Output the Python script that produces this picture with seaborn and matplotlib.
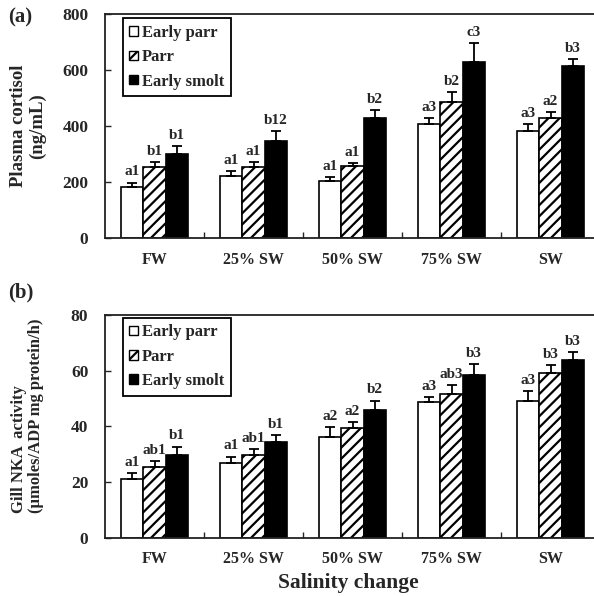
import seaborn as sns
import matplotlib.pyplot as plt
import pandas as pd
from matplotlib.patches import Patch

# Salinity groups and life stages
salinity = ["FW", "25% SW", "50% SW", "75% SW", "SW"]
stages = ["Early parr", "Parr", "Early smolt"]

# (a) plasma cortisol, ng/mL (mean and SE)
cortisol_early_parr = [183, 221, 205, 407, 383]
cortisol_parr = [252, 252, 258, 487, 429]
cortisol_early_smolt = [299, 347, 428, 630, 615]
cortisol_se_early_parr = [15, 18, 14, 20, 24]
cortisol_se_parr = [20, 20, 9, 35, 22]
cortisol_se_early_smolt = [30, 36, 29, 65, 24]
cortisol_letters = [["a1", "a1", "a1", "a3", "a3"],
                    ["b1", "a1", "a1", "b2", "a2"],
                    ["b1", "b12", "b2", "c3", "b3"]]

# (b) gill NKA activity
nka_early_parr = [21.1, 26.8, 36.0, 48.7, 48.9]
nka_parr = [25.5, 29.5, 39.3, 51.7, 59.1]
nka_early_smolt = [29.7, 34.5, 45.9, 58.5, 63.7]
nka_se_early_parr = [2.1, 2.3, 3.7, 1.8, 3.6]
nka_se_parr = [2.1, 2.4, 2.2, 3.2, 2.8]
nka_se_early_smolt = [3.0, 2.2, 3.3, 3.9, 3.0]
nka_letters = [["a1", "a1", "a2", "a3", "a3"],
               ["ab1", "ab1", "a2", "ab3", "b3"],
               ["b1", "b1", "b2", "b3", "b3"]]


def make_df(means, ses):
    rows = []
    for stage, m, s in zip(stages, means, ses):
        for cat, v, e in zip(salinity, m, s):
            rows.append({"Salinity": cat, "Stage": stage, "value": v, "se": e})
    return pd.DataFrame(rows)


df_a = make_df([cortisol_early_parr, cortisol_parr, cortisol_early_smolt],
               [cortisol_se_early_parr, cortisol_se_parr, cortisol_se_early_smolt])
df_b = make_df([nka_early_parr, nka_parr, nka_early_smolt],
               [nka_se_early_parr, nka_se_parr, nka_se_early_smolt])

sns.set_theme(style="ticks")
plt.rcParams["font.family"] = ["Liberation Serif", "DejaVu Serif"]
plt.rcParams["font.weight"] = "bold"
plt.rcParams["hatch.linewidth"] = 1.6

fig = plt.figure(figsize=(5.94, 5.96), dpi=100)
ax_a = fig.add_axes([105 / 594, 1 - 238 / 596, 489 / 594, 224 / 596])
ax_b = fig.add_axes([105 / 594, 1 - 537.5 / 596, 489 / 594, 222.5 / 596])

palette = {"Early parr": "white", "Parr": "white", "Early smolt": "black"}


def draw_panel(ax, df, letters, ymax, ystep, legend_y):
    sns.barplot(data=df, x="Salinity", y="value", hue="Stage", order=salinity,
                hue_order=stages, palette=palette, edgecolor="black",
                linewidth=1.2, width=0.672, errorbar=None, legend=False, ax=ax)
    bar_conts = list(ax.containers)
    for i, cont in enumerate(bar_conts):
        sub = df[df["Stage"] == stages[i]]
        for j, bar in enumerate(cont):
            if stages[i] == "Parr":
                bar.set_hatch("///")
            xc = bar.get_x() + bar.get_width() / 2
            v = sub["value"].iloc[j]
            e = sub["se"].iloc[j]
            ax.errorbar(xc, v, yerr=[[0], [e]], color="black", lw=1.3,
                        capsize=3.5, capthick=1.3, zorder=3)
            ax.annotate(letters[i][j], (xc, v + e), xytext=(0, 3),
                        textcoords="offset points", ha="center", va="bottom",
                        fontsize=11, fontweight="bold")
    ax.set_xlim(-0.5, -0.5 + 489 / 99)
    ax.set_ylim(0, ymax)
    ax.set_yticks(range(0, ymax + 1, ystep))
    ax.set_xticks([0.5, 1.5, 2.5, 3.5], minor=True)
    ax.tick_params(axis="x", which="major", length=0, pad=10, labelsize=11.5)
    ax.tick_params(axis="x", which="minor", direction="in", length=4, width=1)
    ax.tick_params(axis="y", direction="in", length=4, width=1, labelsize=12.5, pad=12)
    for lab in ax.get_xticklabels() + ax.get_yticklabels():
        lab.set_fontweight("bold")
    ax.set_xlabel("")
    for side in ["left", "bottom", "top"]:
        ax.spines[side].set_linewidth(1.3)
        ax.spines[side].set_color("#222222")
    ax.spines["right"].set_visible(False)
    handles = [Patch(facecolor="white", edgecolor="black", linewidth=1),
               Patch(facecolor="white", edgecolor="black", hatch="///", linewidth=1),
               Patch(facecolor="black", edgecolor="black", linewidth=1)]
    leg = ax.legend(handles, stages, loc="upper left", bbox_to_anchor=(0.036, legend_y),
                    borderaxespad=0, fancybox=False, framealpha=1, edgecolor="black",
                    prop={"size": 12, "weight": "bold"}, handlelength=0.5,
                    handleheight=0.5, handletextpad=0.25, labelspacing=0.5,
                    borderpad=0.4)
    leg.get_frame().set_linewidth(1.3)


draw_panel(ax_a, df_a, cortisol_letters, 800, 200, 0.981)
draw_panel(ax_b, df_b, nka_letters, 80, 20, 0.988)

ax_a.set_ylabel("Plasma cortisol\n(ng/mL)", fontsize=13.5, fontweight="bold",
                linespacing=1.1)
ax_a.yaxis.set_label_coords(-0.121, 0.5)
ax_b.set_ylabel("Gill NKA  activity\n(\u00b5moles/ADP mg protein/h)", fontsize=12,
                fontweight="bold", linespacing=1.1, multialignment="left")
ax_b.yaxis.set_label_coords(-0.125, 0.548)

fig.text(8 / 594, 1 - 17 / 596, "(a)", fontsize=15, fontweight="bold", va="center")
fig.text(8 / 594, 1 - 292 / 596, "(b)", fontsize=15, fontweight="bold", va="center")
fig.text(348 / 594, 1 - 583 / 596, "Salinity change", fontsize=15.5, fontweight="bold",
         ha="center", va="center")

fig.savefig("out.png", dpi=100)
